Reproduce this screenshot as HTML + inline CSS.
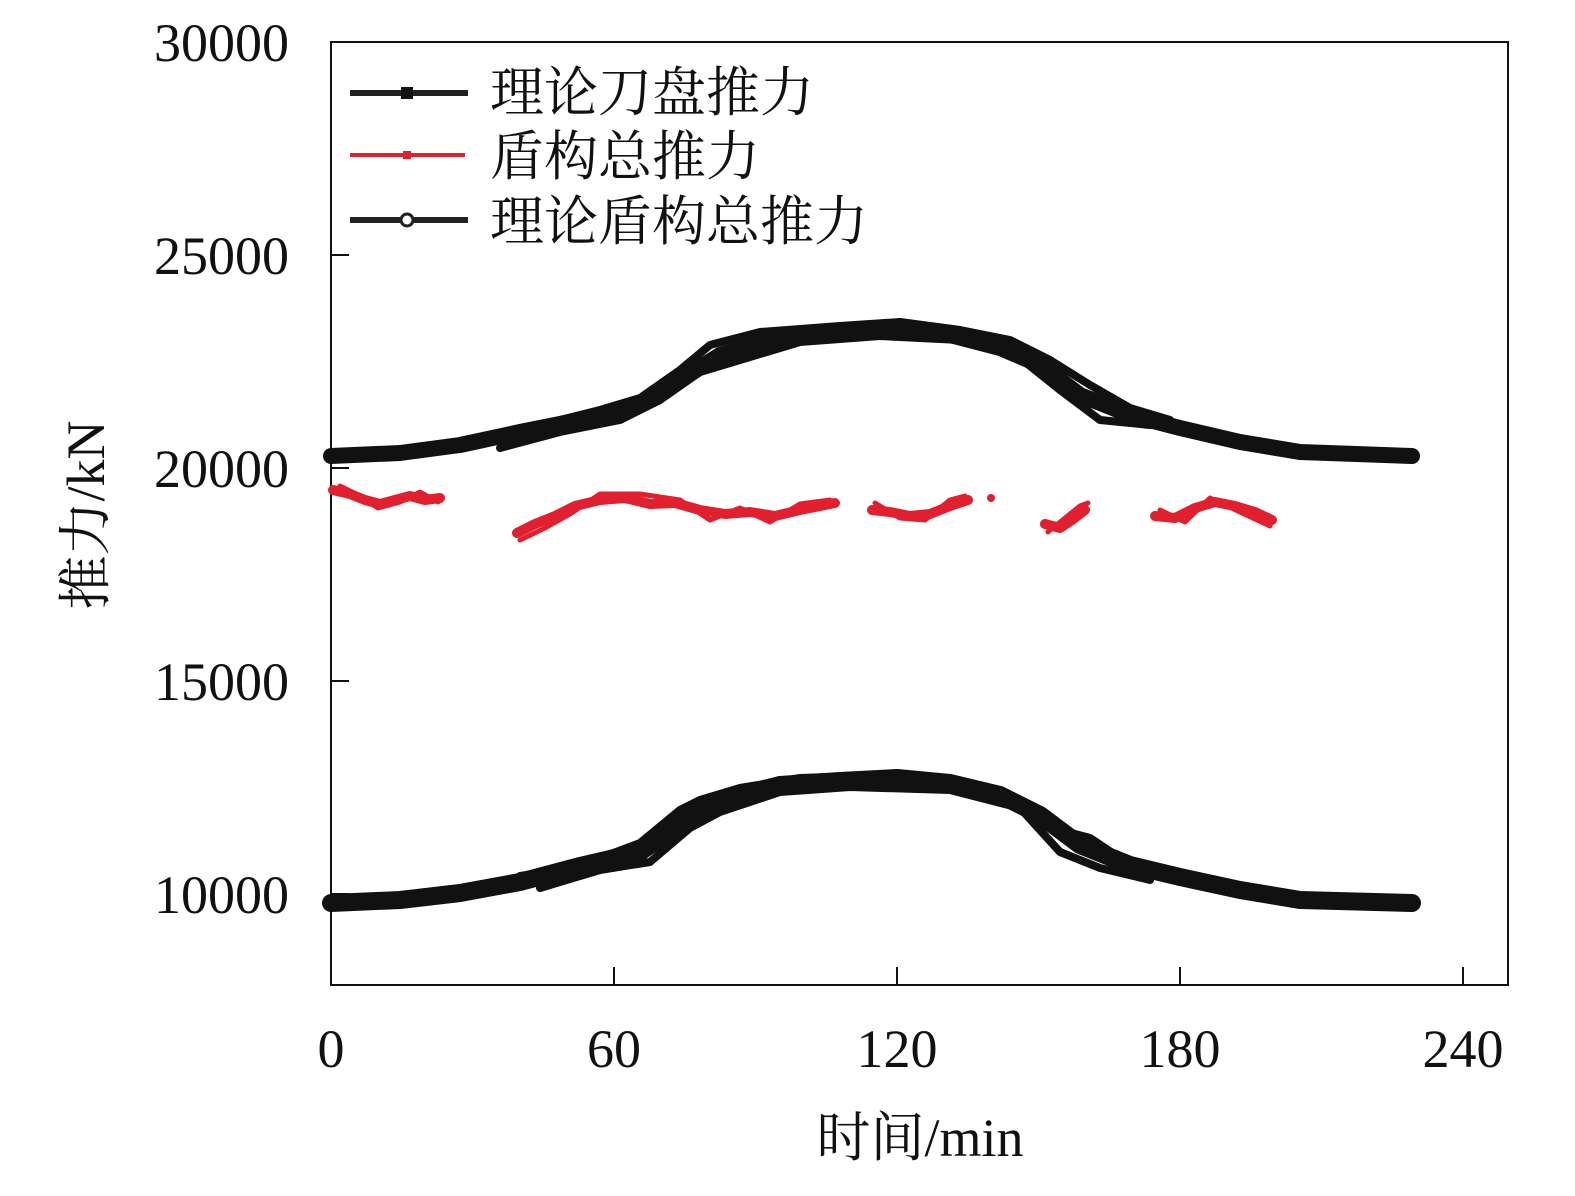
<!DOCTYPE html>
<html><head><meta charset="utf-8"><style>
html,body{margin:0;padding:0;background:#fff;}
svg text{font-family:"Liberation Serif","Noto Serif CJK SC",serif;fill:#111;}
</style></head><body>
<svg width="1575" height="1191" viewBox="0 0 1575 1191" xmlns="http://www.w3.org/2000/svg">
<rect x="331" y="42" width="1177" height="943" fill="none" stroke="#111" stroke-width="2"/>
<g stroke="#111" stroke-width="2">
<line x1="331" y1="255" x2="349" y2="255"/><line x1="331" y1="468" x2="349" y2="468"/>
<line x1="331" y1="681" x2="349" y2="681"/><line x1="331" y1="894" x2="349" y2="894"/>
<line x1="614" y1="985" x2="614" y2="967"/><line x1="897" y1="985" x2="897" y2="967"/>
<line x1="1180" y1="985" x2="1180" y2="967"/><line x1="1463" y1="985" x2="1463" y2="967"/>
</g>
<g font-size="54" text-anchor="end">
<text x="289" y="61">30000</text><text x="289" y="274">25000</text><text x="289" y="487">20000</text>
<text x="289" y="700">15000</text><text x="289" y="913">10000</text>
</g>
<g font-size="54" text-anchor="middle">
<text x="331" y="1067">0</text><text x="614" y="1067">60</text><text x="897" y="1067">120</text>
<text x="1180" y="1067">180</text><text x="1463" y="1067">240</text>
</g>
<text x="920" y="1156" font-size="54" text-anchor="middle">时间/min</text>
<text transform="translate(104,515) rotate(-90)" font-size="54" text-anchor="middle">推力/kN</text>
<g fill="none" stroke="#111" stroke-linejoin="round" stroke-linecap="round">
<polyline stroke-width="18" points="331,903 400,900 460,893 520,882 580,866 640,852 660,838 680,822 700,808 720,800 780,785 840,781 897,778 950,783 1000,795 1040,815 1080,845 1130,865 1180,877 1240,890 1300,900 1412,903"/>
<polyline stroke-width="8" points="520,876 560,870 600,858 640,843 680,810 700,800 740,788 800,778 860,776 930,778 1000,790 1030,805 1060,830 1090,838 1120,858 1160,870"/>
<polyline stroke-width="8" points="540,888 600,870 650,862 690,828 720,812 780,792 850,787 950,790 1020,808 1060,852 1100,868 1150,880"/>
<polyline stroke-width="16" points="331,456 400,453 460,445 520,432 580,420 640,405 680,380 720,355 780,338 840,332 897,328 950,335 1000,348 1040,365 1080,395 1130,415 1180,428 1240,442 1300,452 1412,456"/>
<polyline stroke-width="8" points="480,440 540,425 600,410 640,398 680,370 710,345 760,332 840,326 900,322 960,330 1010,340 1050,360 1090,385 1130,408 1170,420"/>
<polyline stroke-width="8" points="500,448 560,432 620,420 660,400 700,372 740,360 800,342 880,336 960,340 1020,358 1060,390 1100,420 1150,425"/>
</g>
<g fill="none" stroke="#e0202e" stroke-width="10" stroke-linejoin="round" stroke-linecap="round">
<polyline points="333,490 350,494 365,500 380,504 395,500 410,496 425,500 440,498"/>
<polyline stroke-width="5" points="340,486 360,496 378,508 400,502 420,492 438,502"/>
<polyline points="517,533 535,524 555,516 575,506 600,500 625,498 650,504 675,503 700,510 725,514 750,512 775,516 800,510 820,506 835,503"/>
<polyline stroke-width="5" points="520,540 545,528 570,514 600,494 640,494 680,500 710,520 740,508 770,522 800,504 830,500"/>
<polyline points="872,510 890,512 910,516 930,514 950,506 968,500"/>
<polyline stroke-width="5" points="875,503 900,518 925,520 950,500 965,496"/>
<circle cx="991" cy="498" r="4" fill="#e0202e" stroke="none"/>
<polyline points="1045,524 1060,528 1072,520 1085,510"/>
<polyline stroke-width="5" points="1048,532 1065,518 1080,506 1088,503"/>
<polyline points="1155,516 1175,518 1195,508 1215,502 1235,506 1255,512 1272,520"/>
<polyline stroke-width="5" points="1160,510 1185,522 1210,498 1240,512 1270,526"/>
</g>
<g stroke="#222" stroke-width="6">
<line x1="350" y1="93" x2="468" y2="93"/><line x1="350" y1="220" x2="468" y2="220"/>
</g>
<rect x="401" y="87" width="12" height="12" fill="#111"/>
<circle cx="407" cy="220" r="6" fill="#fff" stroke="#222" stroke-width="3"/>
<line x1="350" y1="155" x2="465" y2="155" stroke="#e0202e" stroke-width="4"/>
<rect x="403" y="151" width="8" height="8" fill="#e0202e"/>
<g font-size="54">
<text x="490" y="111">理论刀盘推力</text>
<text x="490" y="175">盾构总推力</text>
<text x="490" y="240">理论盾构总推力</text>
</g>
</svg>
</body></html>
